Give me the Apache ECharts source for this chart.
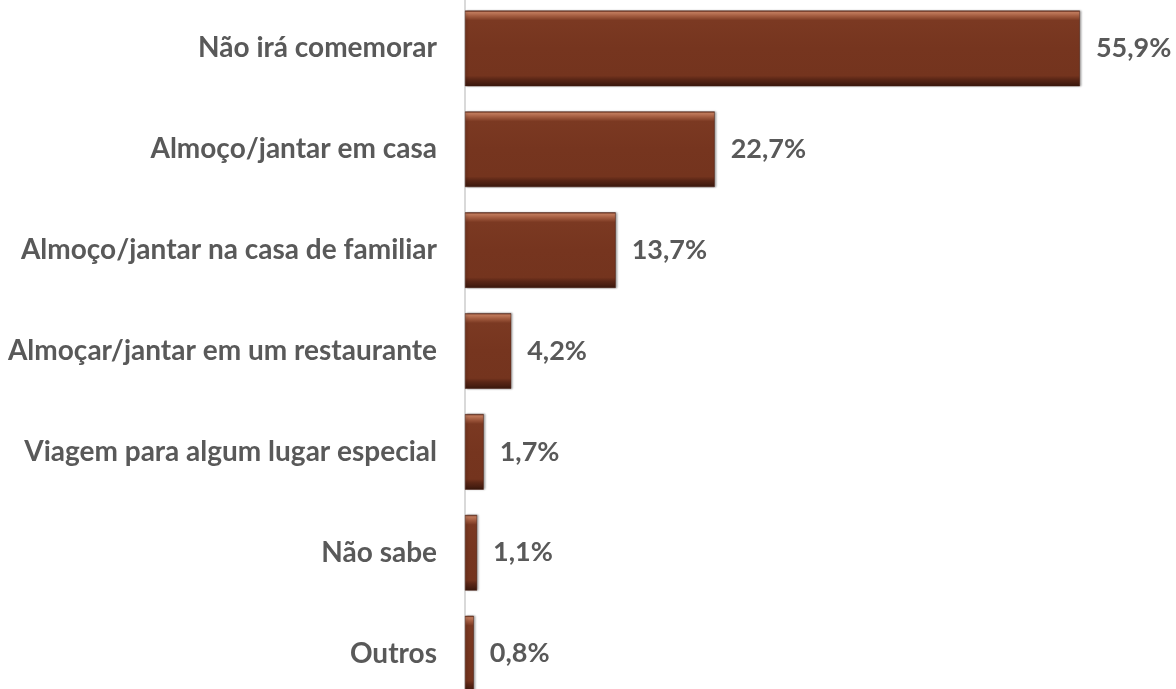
<!DOCTYPE html>
<html>
<head>
<meta charset="utf-8">
<script src="https://cdn.jsdelivr.net/npm/echarts@6/dist/echarts.min.js"></script>
<style>
  html, body { margin: 0; padding: 0; background: #fff; }
  #chart { width: 1176px; height: 689px; }
</style>
</head>
<body>
<div id="chart"></div>
<script>
// categorias de cima para baixo
const categories = [
  'Não irá comemorar',
  'Almoço/jantar em casa',
  'Almoço/jantar na casa de familiar',
  'Almoçar/jantar em um restaurante',
  'Viagem para algum lugar especial',
  'Não sabe',
  'Outros'
];
const values = [55.9, 22.7, 13.7, 4.2, 1.7, 1.1, 0.8];

const chart = echarts.init(document.getElementById('chart'));

// efeito "bisel" aproximado com gradiente vertical
const barColor = new echarts.graphic.LinearGradient(0, 0, 0, 1, [
  { offset: 0, color: '#6a2f1c' },
  { offset: 0.025, color: '#c07a5c' },
  { offset: 0.07, color: '#a35c40' },
  { offset: 0.13, color: '#7b3922' },
  { offset: 0.5, color: '#76351f' },
  { offset: 0.86, color: '#74341e' },
  { offset: 0.91, color: '#5a2616' },
  { offset: 1, color: '#3a180d' }
]);

chart.setOption({
  animation: false,
  grid: {
    left: 465,
    top: -2,
    width: 660,
    height: 706,
    containLabel: false,
    outerBoundsMode: 'none'
  },
  xAxis: {
    type: 'value',
    min: 0,
    max: 60,
    show: false
  },
  yAxis: {
    type: 'category',
    inverse: true,
    data: categories,
    axisLine: { show: true, lineStyle: { color: '#d9d9d9', width: 2 } },
    axisTick: { show: false },
    axisLabel: {
      margin: 28,
      fontFamily: 'Lato',
      fontWeight: 'bold',
      fontSize: 28,
      color: '#595959'
    }
  },
  series: [{
    type: 'bar',
    data: values,
    barCategoryGap: '25%',
    itemStyle: {
      color: barColor,
      borderColor: '#4a1f12',
      borderWidth: 0.5,
      shadowColor: 'rgba(0,0,0,0.35)',
      shadowBlur: 2,
      shadowOffsetX: 1.5
    },
    label: {
      show: true,
      position: 'right',
      distance: 16,
      fontFamily: 'Lato',
      fontWeight: 'bold',
      fontSize: 27,
      color: '#595959',
      formatter: (p) => p.value.toFixed(1).replace('.', ',') + '%'
    }
  }]
});
</script>
</body>
</html>
